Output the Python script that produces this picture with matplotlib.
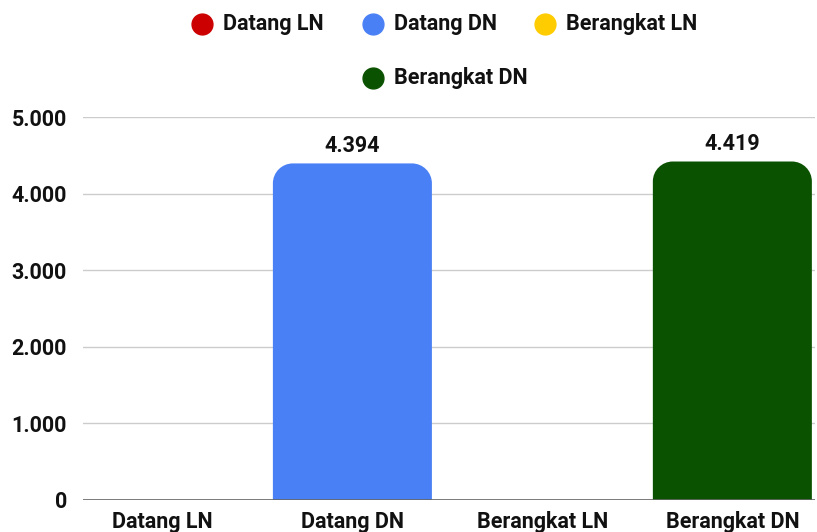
import matplotlib.pyplot as plt
from matplotlib.lines import Line2D
from matplotlib.path import Path
from matplotlib.patches import PathPatch

plt.rcParams['font.family'] = ['Roboto', 'DejaVu Sans']
plt.rcParams['font.weight'] = 'bold'

# ── Data ─────────────────────────────────────────────────────
categories = ['Datang LN', 'Datang DN', 'Berangkat LN', 'Berangkat DN']
values = [0, 4394, 0, 4419]
colors = ['#cc0000', '#4a80f5', '#ffcc00', '#0b5200']
yticks = [0, 1000, 2000, 3000, 4000, 5000]
ytick_labels = ['0', '1.000', '2.000', '3.000', '4.000', '5.000']


def fmt(v):
    return f'{v:,}'.replace(',', '.')


FS = 15.5
fig = plt.figure(figsize=(8.17, 5.32), dpi=100)
ax = fig.add_axes([83 / 817, 1 - 500 / 532, 732 / 817, 383 / 532])
ax.set_xlim(-0.418, 3.435)
ax.set_ylim(0, 5000)

# ── Bars with rounded top corners ────────────────────────────
width = 0.837
rx, ry = 0.105, 260
for i, (v, c) in enumerate(zip(values, colors)):
    if v <= 0:
        continue
    x0, x1 = i - width / 2, i + width / 2
    r_y = min(ry, v)
    k = 0.5523
    verts = [(x0, 0), (x0, v - r_y),
             (x0, v - r_y + k * r_y), (x0 + rx - k * rx, v), (x0 + rx, v),
             (x1 - rx, v),
             (x1 - rx + k * rx, v), (x1, v - r_y + k * r_y), (x1, v - r_y),
             (x1, 0), (x0, 0)]
    codes = [Path.MOVETO, Path.LINETO,
             Path.CURVE4, Path.CURVE4, Path.CURVE4,
             Path.LINETO,
             Path.CURVE4, Path.CURVE4, Path.CURVE4,
             Path.LINETO, Path.CLOSEPOLY]
    ax.add_patch(PathPatch(Path(verts, codes), facecolor=c, edgecolor='none', zorder=3))
    ax.text(i, v + 90, fmt(v), ha='center', va='bottom', fontsize=FS,
            fontweight='bold', color='#111111')

# ── Axes styling ─────────────────────────────────────────────
ax.set_yticks(yticks)
ax.set_yticklabels(ytick_labels)
ax.set_xticks(range(len(categories)))
ax.set_xticklabels(categories)
ax.tick_params(axis='y', length=0, pad=11.5, labelsize=FS, labelcolor='#111111')
ax.tick_params(axis='x', length=0, pad=8, labelsize=FS, labelcolor='#111111')
for s in ax.spines.values():
    s.set_visible(False)
ax.grid(axis='y', color='#cccccc', linewidth=1, zorder=0)
ax.set_axisbelow(True)
ax.axhline(0, color='#666666', linewidth=1.2, zorder=4)

# ── Legend (manual, two rows) ────────────────────────────────
legend_pos = [(202, 24), (373, 24), (545, 24), (373, 78)]
for (px, py), label, c in zip(legend_pos, categories, colors):
    fx, fy = px / 817, 1 - py / 532
    fig.add_artist(Line2D([fx], [fy], marker='o', markersize=15, color=c,
                          linestyle='none', transform=fig.transFigure))
    fig.text(fx + 21 / 817, fy, label, ha='left', va='center', fontsize=FS,
             fontweight='bold', color='#111111')

plt.savefig('out.png', dpi=100)
